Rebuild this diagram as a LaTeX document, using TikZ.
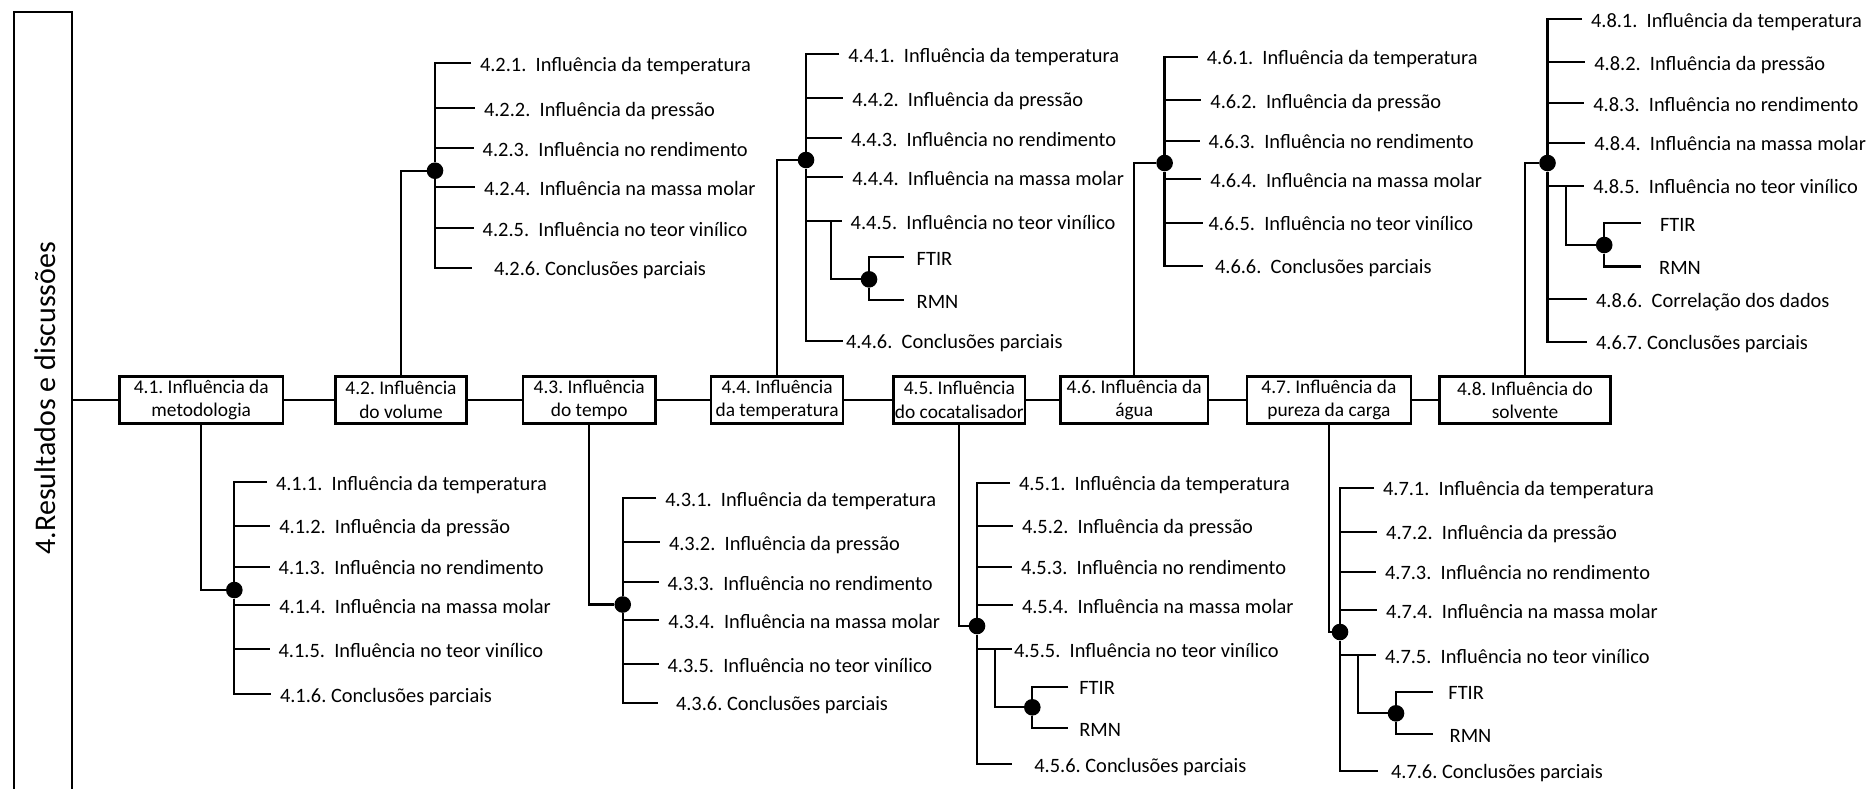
\documentclass[tikz,border=0pt]{standalone}
\usepackage{fontspec}
\setmainfont{Carlito}
\usepackage{tikz}
\frenchspacing
\tikzset{
  rdside/.style={draw,line width=2.3pt,inner sep=0pt},
  rdtitle/.style={rotate=90,anchor=base,inner sep=0pt,font=\fontsize{30}{36}\selectfont},
  rdbox/.style={draw,line width=2.5pt,fill=white,inner sep=0pt,align=center,minimum height=46.8pt,font=\fontsize{19.4}{23.3}\selectfont},
  rditem/.style={anchor=west,inner sep=0pt,outer xsep=9pt,outer ysep=0pt,text height=19pt,text depth=3pt,font=\fontsize{20.4}{24}\selectfont},
  rddot/.style={circle,fill=black,inner sep=0pt,minimum size=16.6pt},
  rdline/.style={line width=2.3pt},
}

\begin{document}
\begin{tikzpicture}[x=1pt,y=-1pt]
\useasboundingbox (0,0) rectangle (1870,788);
\node[rdside,minimum width=58pt,minimum height=790pt] (res) at (43,406.7) {};
\node[rdtitle] (restit) at (55,398) {4.Resultados e discussões};
\node[rdbox,minimum width=163.5pt] (b41) at (201.25,400) {4.1. Influência da\\metodologia};
\node[rdbox,minimum width=131.1pt] (b42) at (401,400) {4.2. Influência\\do volume};
\node[rdbox,minimum width=132.5pt] (b43) at (589.25,400) {4.3. Influência\\do tempo};
\node[rdbox,minimum width=131.8pt] (b44) at (777.1,400) {4.4. Influência\\da temperatura};
\node[rdbox,minimum width=131.4pt] (b45) at (959.3,400) {4.5. Influência\\do cocatalisador};
\node[rdbox,minimum width=147.6pt] (b46) at (1134.2,400) {4.6. Influência da\\água};
\node[rdbox,minimum width=164.2pt] (b47) at (1328.9,400) {4.7. Influência da\\pureza da carga};
\node[rdbox,minimum width=171pt] (b48) at (1525,400) {4.8. Influência do\\solvente};
\draw[rdline] (res.east |- b41.west) -- (b41.west);
\draw[rdline] (b41) -- (b42);
\draw[rdline] (b42) -- (b43);
\draw[rdline] (b43) -- (b44);
\draw[rdline] (b44) -- (b45);
\draw[rdline] (b45) -- (b46);
\draw[rdline] (b46) -- (b47);
\draw[rdline] (b47) -- (b48);

\node[rddot] (d41) at (234.3,590) {};
\draw[rdline] (b41.south) |- (d41);
\node[rditem] (i411) at (267,482.3) {4.1.1.\ \ Influência da temperatura};
\node[rditem] (i412) at (270.3,525.7) {4.1.2.\ \ Influência da pressão};
\node[rditem] (i413) at (269.7,566.7) {4.1.3.\ \ Influência no rendimento};
\node[rditem] (i414) at (270.3,605) {4.1.4.\ \ Influência na massa molar};
\node[rditem] (i415) at (269.6,649.3) {4.1.5.\ \ Influência no teor vinílico};
\node[rditem] (i416) at (271,694) {4.1.6. Conclusões parciais};
\draw[rdline] (i411.west) -| (d41) |- (i416.west);
\draw[rdline] (d41 |- i412.west) -- (i412.west);
\draw[rdline] (d41 |- i413.west) -- (i413.west);
\draw[rdline] (d41 |- i414.west) -- (i414.west);
\draw[rdline] (d41 |- i415.west) -- (i415.west);

\node[rddot] (d42) at (435,170.7) {};
\draw[rdline] (b42.north) |- (d42);
\node[rditem] (i421) at (471,63.3) {4.2.1.\ \ Influência da temperatura};
\node[rditem] (i422) at (475,108.3) {4.2.2.\ \ Influência da pressão};
\node[rditem] (i423) at (473.7,148.3) {4.2.3.\ \ Influência no rendimento};
\node[rditem] (i424) at (475,187.3) {4.2.4.\ \ Influência na massa molar};
\node[rditem] (i425) at (473.7,228.3) {4.2.5.\ \ Influência no teor vinílico};
\node[rditem,outer xsep=22pt] (i426) at (472,267.7) {4.2.6. Conclusões parciais};
\draw[rdline] (i421.west) -| (d42) |- (i426.west);
\draw[rdline] (d42 |- i422.west) -- (i422.west);
\draw[rdline] (d42 |- i423.west) -- (i423.west);
\draw[rdline] (d42 |- i424.west) -- (i424.west);
\draw[rdline] (d42 |- i425.west) -- (i425.west);

\node[rddot] (d43) at (622.7,604.5) {};
\draw[rdline] (b43.south) |- (d43);
\node[rditem] (i431) at (656.3,498) {4.3.1.\ \ Influência da temperatura};
\node[rditem] (i432) at (660,542.3) {4.3.2.\ \ Influência da pressão};
\node[rditem] (i433) at (658.6,582.3) {4.3.3.\ \ Influência no rendimento};
\node[rditem] (i434) at (659.4,620.3) {4.3.4.\ \ Influência na massa molar};
\node[rditem] (i435) at (658.6,664) {4.3.5.\ \ Influência no teor vinílico};
\node[rditem,outer xsep=18pt] (i436) at (658,702.7) {4.3.6. Conclusões parciais};
\draw[rdline] (i431.west) -| (d43) |- (i436.west);
\draw[rdline] (d43 |- i432.west) -- (i432.west);
\draw[rdline] (d43 |- i433.west) -- (i433.west);
\draw[rdline] (d43 |- i434.west) -- (i434.west);
\draw[rdline] (d43 |- i435.west) -- (i435.west);

\node[rddot] (d44) at (806,160) {};
\draw[rdline] (b44.north) |- (d44);
\node[rditem] (i441) at (839.3,54.3) {4.4.1.\ \ Influência da temperatura};
\node[rditem] (i442) at (843.3,98.3) {4.4.2.\ \ Influência da pressão};
\node[rditem] (i443) at (842,138.3) {4.4.3.\ \ Influência no rendimento};
\node[rditem] (i444) at (843.3,177.3) {4.4.4.\ \ Influência na massa molar};
\node[rditem] (i445) at (841.7,221) {4.4.5.\ \ Influência no teor vinílico};
\node[rditem,outer xsep=3pt] (i446) at (843,340.7) {4.4.6.\ \ Conclusões parciais};
\draw[rdline] (i441.west) -| (d44) |- (i446.west);
\draw[rdline] (d44 |- i442.west) -- (i442.west);
\draw[rdline] (d44 |- i443.west) -- (i443.west);
\draw[rdline] (d44 |- i444.west) -- (i444.west);
\draw[rdline] (d44 |- i445.west) -- (i445.west);
\coordinate (k445) at (830.7,221);
\node[rddot] (s44) at (869,279.3) {};
\node[rditem,outer xsep=12.7pt] (f44) at (904,257.3) {FTIR};
\node[rditem,outer xsep=12.7pt] (r44) at (904,300) {RMN};
\draw[rdline] (k445) |- (s44);
\draw[rdline] (f44.west) -| (s44) |- (r44.west);

\node[rddot] (d45) at (977,626) {};
\draw[rdline] (b45.south) |- (d45);
\node[rditem] (i451) at (1010,482.7) {4.5.1.\ \ Influência da temperatura};
\node[rditem] (i452) at (1013,525.7) {4.5.2.\ \ Influência da pressão};
\node[rditem] (i453) at (1012,566.7) {4.5.3.\ \ Influência no rendimento};
\node[rditem] (i454) at (1013,605) {4.5.4.\ \ Influência na massa molar};
\node[rditem,outer xsep=2pt] (i455) at (1012,649.3) {4.5.5.\ \ Influência no teor vinílico};
\node[rditem,outer xsep=22.6pt] (i456) at (1011.7,764) {4.5.6. Conclusões parciais};
\draw[rdline] (i451.west) -| (d45) |- (i456.west);
\draw[rdline] (d45 |- i452.west) -- (i452.west);
\draw[rdline] (d45 |- i453.west) -- (i453.west);
\draw[rdline] (d45 |- i454.west) -- (i454.west);
\draw[rdline] (d45 |- i455.west) -- (i455.west);
\coordinate (k455) at (995,649.3);
\node[rddot] (s45) at (1032.3,707.3) {};
\node[rditem,outer xsep=11pt] (f45) at (1068.3,686.7) {FTIR};
\node[rditem,outer xsep=11pt] (r45) at (1068.3,728.3) {RMN};
\draw[rdline] (k455) |- (s45);
\draw[rdline] (f45.west) -| (s45) |- (r45.west);

\node[rddot] (d46) at (1164.6,163) {};
\draw[rdline] (b46.north) |- (d46);
\node[rditem] (i461) at (1197.8,56.7) {4.6.1.\ \ Influência da temperatura};
\node[rditem] (i462) at (1201.4,100) {4.6.2.\ \ Influência da pressão};
\node[rditem] (i463) at (1199.6,140.7) {4.6.3.\ \ Influência no rendimento};
\node[rditem] (i464) at (1201.4,179) {4.6.4.\ \ Influência na massa molar};
\node[rditem,outer xsep=5.4pt] (i465) at (1203.2,222.7) {4.6.5.\ \ Influência no teor vinílico};
\node[rditem,outer xsep=12pt] (i466) at (1203,265.7) {4.6.6.\ \ Conclusões parciais};
\draw[rdline] (i461.west) -| (d46) |- (i466.west);
\draw[rdline] (d46 |- i462.west) -- (i462.west);
\draw[rdline] (d46 |- i463.west) -- (i463.west);
\draw[rdline] (d46 |- i464.west) -- (i464.west);
\draw[rdline] (d46 |- i465.west) -- (i465.west);

\node[rddot] (d47) at (1340,632) {};
\draw[rdline] (b47.south) |- (d47);
\node[rditem] (i471) at (1374,487.7) {4.7.1.\ \ Influência da temperatura};
\node[rditem] (i472) at (1377.2,531.7) {4.7.2.\ \ Influência da pressão};
\node[rditem] (i473) at (1376,571.7) {4.7.3.\ \ Influência no rendimento};
\node[rditem] (i474) at (1377.2,610) {4.7.4.\ \ Influência na massa molar};
\node[rditem] (i475) at (1376,655) {4.7.5.\ \ Influência no teor vinílico};
\node[rditem,outer xsep=13pt] (i476) at (1378,770.7) {4.7.6. Conclusões parciais};
\draw[rdline] (i471.west) -| (d47) |- (i476.west);
\draw[rdline] (d47 |- i472.west) -- (i472.west);
\draw[rdline] (d47 |- i473.west) -- (i473.west);
\draw[rdline] (d47 |- i474.west) -- (i474.west);
\draw[rdline] (d47 |- i475.west) -- (i475.west);
\coordinate (k475) at (1358.2,655);
\node[rddot] (s47) at (1396,713.3) {};
\node[rditem,outer xsep=15.7pt] (f47) at (1432.7,691.7) {FTIR};
\node[rditem,outer xsep=17pt] (r47) at (1432.7,734.3) {RMN};
\draw[rdline] (k475) |- (s47);
\draw[rdline] (f47.west) -| (s47) |- (r47.west);

\node[rddot] (d48) at (1547.5,163) {};
\draw[rdline] (b48.north) |- (d48);
\node[rditem] (i481) at (1582,19.3) {4.8.1.\ \ Influência da temperatura};
\node[rditem] (i482) at (1585.3,62.3) {4.8.2.\ \ Influência da pressão};
\node[rditem] (i483) at (1584.3,103.3) {4.8.3.\ \ Influência no rendimento};
\node[rditem] (i484) at (1585.3,142.7) {4.8.4.\ \ Influência na massa molar};
\node[rditem] (i485) at (1584.3,185.7) {4.8.5.\ \ Influência no teor vinílico};
\node[rditem] (i486) at (1587,299) {4.8.6.\ \ Correlação dos dados};
\node[rditem] (i487) at (1587,341.7) {4.6.7. Conclusões parciais};
\draw[rdline] (i481.west) -| (d48) |- (i487.west);
\draw[rdline] (d48 |- i482.west) -- (i482.west);
\draw[rdline] (d48 |- i483.west) -- (i483.west);
\draw[rdline] (d48 |- i484.west) -- (i484.west);
\draw[rdline] (d48 |- i485.west) -- (i485.west);
\draw[rdline] (d48 |- i486.west) -- (i486.west);
\coordinate (k485) at (1565.7,185.7);
\node[rddot] (s48) at (1604.2,245) {};
\node[rditem,outer xsep=19.3pt] (f48) at (1640.7,223) {FTIR};
\node[rditem,outer xsep=18.5pt] (r48) at (1640.7,266.5) {RMN};
\draw[rdline] (k485) |- (s48);
\draw[rdline] (f48.west) -| (s48) |- (r48.west);
\end{tikzpicture}
\end{document}
